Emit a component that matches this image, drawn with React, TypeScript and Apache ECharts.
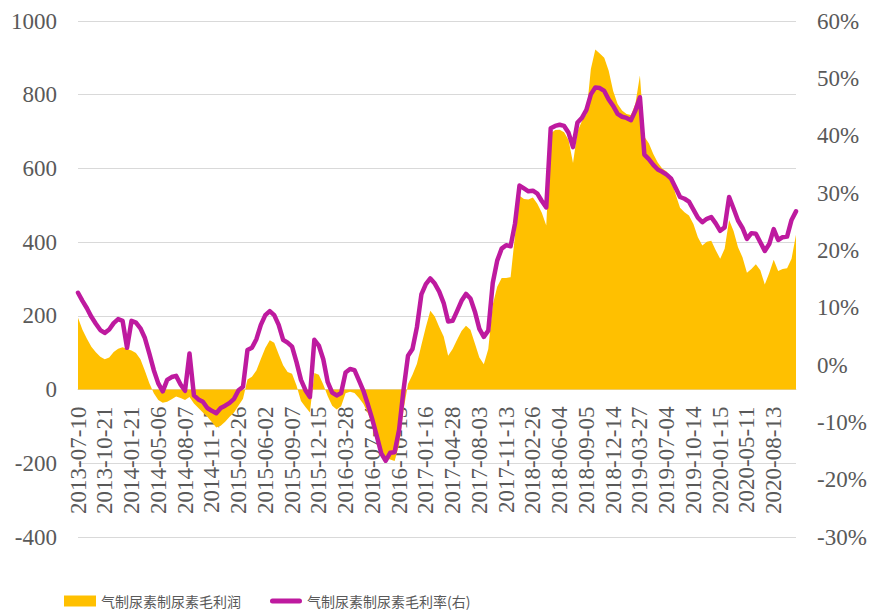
import React, { useEffect, useRef } from "react";
import * as echarts from "echarts";

// Tick labels shown on the category axis (one every 6 sampled points)
const tickDates = [
  "2013-07-10", "2013-10-21", "2014-01-21", "2014-05-06", "2014-08-07", "2014-11-17",
  "2015-02-26", "2015-06-02", "2015-09-07", "2015-12-15", "2016-03-28", "2016-07-04",
  "2016-10-13", "2017-01-16", "2017-04-28", "2017-08-03", "2017-11-13", "2018-02-26",
  "2018-06-04", "2018-09-05", "2018-12-14", "2019-03-27", "2019-07-04", "2019-10-14",
  "2020-01-15", "2020-05-11", "2020-08-13",
];
const SAMPLES_PER_TICK = 6;

// 气制尿素制尿素毛利润 (元/吨)
const grossProfit = [
  195, 162, 138, 116, 101, 89,
  82, 87, 102, 111, 115, 110,
  106, 99, 82, 51, 17, -10,
  -28, -36, -33, -26, -19, -23,
  -28, -20, -38, -50, -62, -74,
  -88, -103, -98, -87, -74, -62,
  -43, -25, 27, 35, 52, 83,
  113, 134, 127, 96, 66, 48,
  43, 11, -31, -47, -62, 45,
  40, 14, -18, -44, -54, -45,
  -10, -6, -9, -23, -39, -64,
  -96, -130, -160, -186, -190, -194,
  -150, -55, 15, 40, 70, 121,
  170, 214, 198, 170, 144, 92,
  110, 135, 159, 173, 162, 125,
  87, 69, 110, 230, 279, 303,
  303, 305, 420, 526, 517, 516,
  521, 504, 480, 445, 695, 704,
  705, 698, 677, 615, 700, 729,
  747, 870, 923, 912, 900, 865,
  810, 775, 757, 748, 745, 776,
  852, 686, 668, 639, 616, 600,
  592, 571, 530, 493, 481, 472,
  449, 413, 391, 401, 404, 378,
  355, 382, 460, 430, 386, 359,
  317, 327, 340, 324, 285, 316,
  352, 322, 327, 329, 355, 420,
];

// 气制尿素制尿素毛利率 (%), right axis
const grossMargin = [
  12.6, 11.2, 9.9, 8.4, 7.2, 6.1,
  5.6, 6.2, 7.3, 8.0, 7.7, 3.0,
  7.7, 7.4, 6.4, 4.7, 2.0, -0.9,
  -3.2, -4.6, -2.6, -2.1, -1.9, -3.4,
  -4.5, 2.0, -5.3, -6.0, -6.4, -7.5,
  -8.0, -8.4, -7.5, -7.1, -6.6, -5.9,
  -4.4, -3.8, 2.6, 3.0, 4.5, 7.0,
  8.7, 9.4, 8.7, 7.0, 4.4, 3.9,
  3.2, 0.5, -2.6, -4.4, -5.6, 4.4,
  3.4, 1.0, -3.0, -4.8, -5.3, -4.9,
  -1.3, -0.7, -0.9, -2.7, -4.5, -6.9,
  -9.5, -12.4, -15.4, -16.7, -15.3, -15.2,
  -11.3, -4.3, 1.6, 2.8, 6.6, 12.3,
  14.1, 15.1, 14.2, 12.8, 10.8, 7.6,
  7.7, 9.4, 11.2, 12.4, 11.6, 9.3,
  6.3, 4.9, 6.0, 14.3, 18.2, 20.3,
  20.9, 20.7, 24.7, 31.3, 30.8, 30.3,
  30.4, 29.9, 28.6, 27.5, 41.3, 41.7,
  41.9, 41.7, 40.5, 38.0, 42.3, 43.1,
  44.5, 47.2, 48.4, 48.3, 47.8, 46.3,
  45.2, 43.8, 43.3, 43.1, 42.7, 44.4,
  46.7, 36.7, 35.9, 34.9, 34.1, 33.7,
  33.2, 32.5, 30.9, 29.3, 29.0, 28.5,
  27.1, 25.7, 24.9, 25.5, 25.8, 24.7,
  23.4, 24.0, 29.3, 27.3, 25.2, 23.9,
  22.0, 23.0, 22.9, 21.4, 19.9, 21.1,
  23.7, 21.8, 22.3, 22.4, 25.3, 26.8,
];

const profitName = "气制尿素制尿素毛利润";
const marginName = "气制尿素制尿素毛利率(右)";

const categories: string[] = [];
tickDates.forEach((d) => {
  for (let k = 0; k < SAMPLES_PER_TICK; k++) {
    categories.push(k === 0 ? d : `${d} #${k}`);
  }
});

const LEFT_MIN = -400;
const LEFT_MAX = 1000;
const GRID_TOP = 21;
const GRID_BOTTOM = 76;
const HEIGHT = 613;
const PLOT_H = HEIGHT - GRID_TOP - GRID_BOTTOM;
// move the category axis up onto the left axis' zero line
const ZERO_OFFSET = -((0 - LEFT_MIN) / (LEFT_MAX - LEFT_MIN)) * PLOT_H;

const SERIF = "Liberation Serif";
const CJK = "Noto Sans CJK SC";
const GREY = "#595959";
const GOLD = "#FFC000";
const PURPLE = "#BE1A9F";

// thick rounded line icon (bounding box 32 x 11, band 5px tall in the middle)
const LINE_ICON = "path://M0,0 M32,11 M2.5,3 L29.5,3 A2.5,2.5 0 0 1 29.5,8 L2.5,8 A2.5,2.5 0 0 1 2.5,3 Z";

export default function App() {
  const ref = useRef<HTMLDivElement>(null);
  useEffect(() => {
    if (!ref.current) return;
    const chart = echarts.init(ref.current, undefined, { renderer: "svg" });
    chart.setOption({
      animation: false,
      backgroundColor: "#ffffff",
      grid: { left: 78, right: 74, top: GRID_TOP, bottom: GRID_BOTTOM, containLabel: false, outerBoundsMode: "none" },
      legend: {
        left: 64,
        top: 594,
        padding: 0,
        itemWidth: 32,
        itemHeight: 11,
        itemGap: 29,
        textStyle: { fontFamily: CJK, fontSize: 14, color: GREY },
        data: [
          { name: profitName, icon: "rect", itemStyle: { color: GOLD, borderWidth: 0 } },
          { name: marginName, icon: LINE_ICON, itemStyle: { color: PURPLE, borderWidth: 0 } },
        ],
      },
      xAxis: {
        type: "category",
        data: categories,
        boundaryGap: false,
        position: "bottom",
        offset: ZERO_OFFSET,
        axisLine: { show: true, onZero: false, lineStyle: { color: "#D9D9D9", width: 1 } },
        axisTick: { show: false },
        axisLabel: {
          interval: SAMPLES_PER_TICK - 1,
          rotate: 90,
          margin: 17,
          fontFamily: SERIF,
          fontSize: 23,
          color: GREY,
          formatter: (v: string) => (v.indexOf("#") >= 0 ? "" : v),
        },
        splitLine: { show: false },
      },
      yAxis: [
        {
          type: "value",
          min: LEFT_MIN,
          max: LEFT_MAX,
          interval: 200,
          axisLine: { show: false },
          axisTick: { show: false },
          axisLabel: {
            margin: 21,
            fontFamily: SERIF,
            fontSize: 23,
            color: GREY,
            formatter: (v: number) => String(v),
          },
          splitLine: { show: true, lineStyle: { color: "#D9D9D9", width: 1 } },
        },
        {
          type: "value",
          min: -30,
          max: 60,
          interval: 10,
          position: "right",
          axisLine: { show: false },
          axisTick: { show: false },
          axisLabel: {
            margin: 21,
            fontFamily: SERIF,
            fontSize: 23,
            color: GREY,
            formatter: (v: number) => `${v}%`,
          },
          splitLine: { show: false },
        },
      ],
      series: [
        {
          name: profitName,
          type: "line",
          yAxisIndex: 0,
          data: grossProfit,
          color: GOLD,
          symbol: "none",
          lineStyle: { width: 0, opacity: 0 },
          areaStyle: { color: GOLD, opacity: 1 },
          z: 1,
        },
        {
          name: marginName,
          type: "line",
          yAxisIndex: 1,
          data: grossMargin,
          color: PURPLE,
          symbol: "none",
          lineStyle: { width: 4.5, color: PURPLE, cap: "round", join: "round" },
          z: 3,
        },
      ],
    });
    return () => chart.dispose();
  }, []);
  return (
    <div
      ref={ref}
      style={{ position: "fixed", left: 0, top: 0, width: 870, height: 613, background: "#fff" }}
    />
  );
}
